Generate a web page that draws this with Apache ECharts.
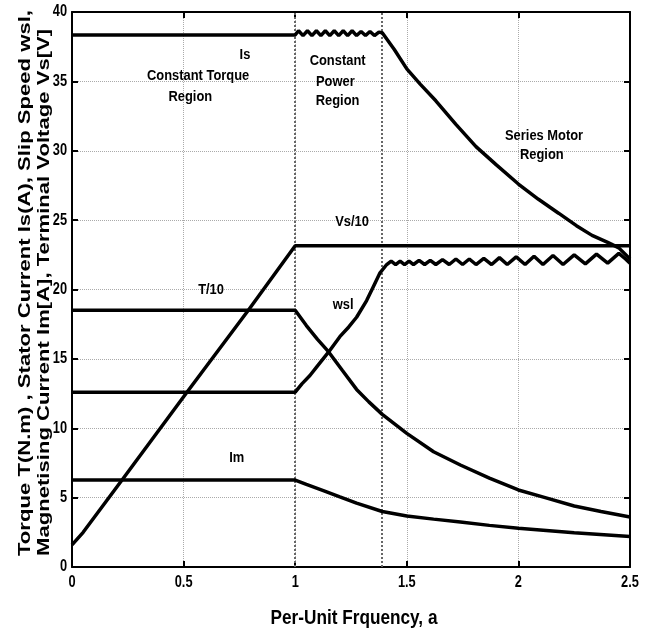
<!DOCTYPE html>
<html>
<head>
<meta charset="utf-8">
<script src="https://cdn.jsdelivr.net/npm/echarts@6/dist/echarts.min.js"></script>
<style>
  html, body { margin: 0; padding: 0; background: #fff; }
  #main { width: 656px; height: 633px; }
</style>
</head>
<body>
<div id="main"></div>
<script>
// values, [a, value]
const isCurve = [
  [0, 38.35], [1.0, 38.35], [1.015, 38.65], [1.035, 38.3], [1.055, 38.65], [1.075, 38.3],
  [1.095, 38.65], [1.115, 38.3], [1.135, 38.65], [1.155, 38.3], [1.175, 38.65], [1.195, 38.3],
  [1.215, 38.65], [1.235, 38.3], [1.255, 38.65], [1.275, 38.3], [1.295, 38.6], [1.315, 38.3],
  [1.335, 38.6], [1.355, 38.3], [1.375, 38.55], [1.39, 38.5],
  [1.444, 37.3], [1.5, 35.9], [1.56, 34.8], [1.63, 33.6], [1.72, 31.9], [1.81, 30.3],
  [1.9, 29.0], [2.0, 27.6], [2.09, 26.5], [2.18, 25.5], [2.26, 24.6], [2.33, 23.9],
  [2.4, 23.4], [2.45, 23.0], [2.5, 22.2]
];
const vsCurve = [[0, 1.6], [0.05, 2.5], [0.23, 6.4], [0.52, 12.7], [0.79, 18.5], [1.0, 23.15], [2.5, 23.15]];
const tCurve = [
  [0, 18.5], [1.0, 18.5], [1.05, 17.4], [1.1, 16.4], [1.15, 15.5], [1.21, 14.2], [1.275, 12.8],
  [1.33, 11.9], [1.39, 11.0], [1.5, 9.63], [1.62, 8.31], [1.74, 7.35], [1.87, 6.4],
  [2.0, 5.55], [2.12, 5.0], [2.25, 4.4], [2.37, 4.0], [2.5, 3.6]
];
const wslCurve = [
  [0, 12.6], [1.0, 12.6], [1.03, 13.2], [1.066, 13.8], [1.1, 14.5], [1.15, 15.5], [1.2, 16.6],
  [1.24, 17.3], [1.275, 18.0], [1.32, 19.2], [1.35, 20.2], [1.38, 21.2], [1.41, 21.8],
  [1.43, 22.05], [1.45, 21.8], [1.47, 22.05], [1.49, 21.8], [1.51, 22.05], [1.53, 21.8],
  [1.555, 22.1], [1.58, 21.8], [1.605, 22.1], [1.63, 21.8], [1.66, 22.15], [1.69, 21.8],
  [1.72, 22.2], [1.75, 21.8], [1.78, 22.2], [1.81, 21.8], [1.845, 22.25], [1.88, 21.8],
  [1.915, 22.3], [1.95, 21.8], [1.99, 22.35], [2.03, 21.8], [2.07, 22.4], [2.11, 21.8],
  [2.155, 22.45], [2.2, 21.8], [2.25, 22.5], [2.3, 21.85], [2.35, 22.55], [2.4, 21.9],
  [2.45, 22.6], [2.48, 22.2], [2.5, 21.9]
];
const imCurve = [
  [0, 6.27], [1.0, 6.27], [1.05, 5.95], [1.126, 5.5], [1.2, 5.05], [1.275, 4.6], [1.39, 4.0],
  [1.5, 3.68], [1.62, 3.45], [1.74, 3.25], [1.87, 3.0], [2.0, 2.8], [2.25, 2.47], [2.5, 2.19]
];
const regionEdges = [1.0, 1.39];
const xTicks = [0, 0.5, 1, 1.5, 2, 2.5];
const yTicks = [0, 5, 10, 15, 20, 25, 30, 35, 40];
// text notes: [a, value, text]
const notes = [
  [0.775, 36.9, 'Is'],
  [0.565, 35.4, 'Constant Torque'],
  [0.53, 33.9, 'Region'],
  [1.19, 36.5, 'Constant'],
  [1.18, 35.0, 'Power'],
  [1.19, 33.6, 'Region'],
  [2.115, 31.1, 'Series Motor'],
  [2.105, 29.7, 'Region'],
  [1.255, 24.9, 'Vs/10'],
  [0.623, 20.0, 'T/10'],
  [1.215, 18.9, 'wsl'],
  [0.738, 7.85, 'Im']
];

const sans = "'Liberation Sans', Arial, sans-serif";
const chart = echarts.init(document.getElementById('main'));

function curve(name, data, extra) {
  return Object.assign({
    name: name,
    type: 'line',
    data: data,
    showSymbol: false,
    silent: true,
    animation: false,
    lineStyle: { color: '#000', width: 3.5 },
    z: 5
  }, extra || {});
}

function boxAxis(pos, max, interval) {
  return {
    type: 'value', min: 0, max: max, interval: interval, position: pos,
    axisLine: { show: true, onZero: false, lineStyle: { color: '#000', width: 2 } },
    axisTick: { show: true, inside: true, length: 6, lineStyle: { color: '#000', width: 2 } },
    axisLabel: { show: false },
    splitLine: { show: false }
  };
}

const xMain = boxAxis('bottom', 2.5, 0.5);
xMain.splitLine = { show: true, lineStyle: { color: '#aaa', type: 'dotted', width: 1 } };
const yMain = boxAxis('left', 40, 5);
yMain.splitLine = { show: true, lineStyle: { color: '#aaa', type: 'dotted', width: 1 } };

// narrow-looking text: plain Liberation Sans squeezed along its baseline
function label(x, y, text, size, sx, align, extra) {
  return Object.assign({
    type: 'text', x: x, y: y, z: 10, scaleX: sx,
    style: {
      text: text, fill: '#000', font: 'bold ' + size + 'px ' + sans,
      textAlign: align || 'center', textVerticalAlign: 'middle'
    }
  }, extra || {});
}

const titles = [
  label(35, 556, 'Torque T(N.m) , Stator Current Is(A), Slip Speed wsl,\nMagnetising Current Im[A], Terminal Voltage Vs[V]',
    17, 1.3, 'left', { rotation: Math.PI / 2 }),
  label(354, 618, 'Per-Unit Frquency, a', 20, 0.86, 'center')
];
titles[0].style.lineHeight = 19;

chart.setOption({
  animation: false,
  grid: { left: 72, right: 26, top: 12, bottom: 66 },
  xAxis: [xMain, boxAxis('top', 2.5, 0.5)],
  yAxis: [yMain, boxAxis('right', 40, 5)],
  series: [
    curve('Is', isCurve, {
      markLine: {
        silent: true, symbol: 'none', label: { show: false },
        lineStyle: { color: '#666', type: 'dotted', width: 2 },
        data: regionEdges.map(function (v) { return { xAxis: v }; })
      }
    }),
    curve('Vs/10', vsCurve),
    curve('T/10', tCurve),
    curve('wsl', wslCurve),
    curve('Im', imCurve)
  ]
});

// tick labels and notes placed through the axes
function px(a, v) {
  return chart.convertToPixel({ xAxisIndex: 0, yAxisIndex: 0 }, [a, v]);
}
const tickGraphics = xTicks.map(function (t) {
  const p = px(t, 0);
  return label(p[0], p[1] + 16, String(t), 16, 0.8, 'center');
}).concat(yTicks.map(function (t) {
  const p = px(0, t);
  return label(p[0] - 5, p[1], String(t), 16, 0.8, 'right');
}));
const noteGraphics = notes.map(function (n) {
  const p = px(n[0], n[1]);
  return label(p[0], p[1], n[2], 15, 0.86, 'center');
});
chart.setOption({ graphic: titles.concat(tickGraphics, noteGraphics) });
</script>
</body>
</html>
